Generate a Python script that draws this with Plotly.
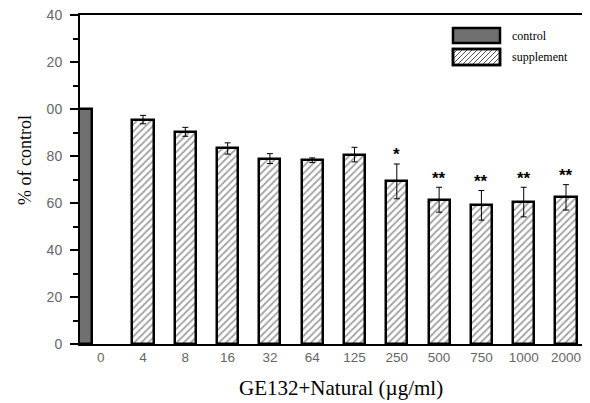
import plotly.graph_objects as go

categories = ["0", "4", "8", "16", "32", "64", "125", "250", "500", "750", "1000", "2000"]
control_value = [100.0]
supp_values = [95.5, 90.3, 83.2, 78.9, 78.2, 80.6, 69.2, 61.4, 59.0, 60.4, 62.4]
supp_errors = [1.8, 1.9, 2.4, 2.1, 1.0, 3.1, 7.4, 5.3, 6.3, 6.3, 5.4]
signif = ["", "", "", "", "", "", "*", "**", "**", "**", "**"]
ytick_vals = [0, 20, 40, 60, 80, 100, 120, 140]
ytick_text = ["0", "20", "40", "60", "80", "00", "20", "40"]
legend_names = ["control", "supplement"]

pos = list(range(len(categories)))
supp_pos = pos[1:]

# plot area in figure pixels (for placing the hand-drawn legend)
W, H = 582, 395
ML, MR, MT, MB = 72, 2, 7, 59
PW, PH = W - ML - MR, H - MT - MB


def px(xp):  # page pixel x -> paper
    return (xp - 8 - ML) / PW


def py(yp):  # page pixel y -> paper
    return (H - MB - (yp - 8)) / PH


fig = go.Figure()
fig.add_trace(go.Bar(
    x=[pos[0] - 0.45], y=control_value, width=0.5, name=legend_names[0],
    marker=dict(color="#707070", line=dict(color="black", width=2.5)),
))
fig.add_trace(go.Bar(
    x=supp_pos, y=supp_values, width=0.5, name=legend_names[1],
    marker=dict(color="white", line=dict(color="black", width=2.5),
                pattern=dict(shape="/", fgcolor="#444444", bgcolor="white", size=5, solidity=0.35)),
    error_y=dict(type="data", array=supp_errors, visible=True, color="black", thickness=1, width=3),
))

for p, v, e, s in zip(supp_pos, supp_values, supp_errors, signif):
    if s:
        fig.add_annotation(x=p, y=v + e, text="<b>" + s + "</b>", showarrow=False, yshift=9,
                           font=dict(family="Liberation Sans", size=17, color="black"))

# hand-drawn legend (larger swatches like the reference)
shapes = []
lx0, lx1 = 453, 500
boxes = [(28, 43), (49, 65)]
shapes.append(dict(type="rect", xref="paper", yref="paper",
                   x0=px(lx0), x1=px(lx1), y0=py(boxes[0][1]), y1=py(boxes[0][0]),
                   fillcolor="#707070", line=dict(color="black", width=2.5)))
t0, b0 = boxes[1]
shapes.append(dict(type="rect", xref="paper", yref="paper",
                   x0=px(lx0), x1=px(lx1), y0=py(b0), y1=py(t0),
                   fillcolor="white", line=dict(color="black", width=2.5)))
h = b0 - t0
for k in range(-h, lx1 - lx0, 5):
    tmin = max(0, -k)
    tmax = min(h, (lx1 - lx0) - k)
    if tmin < tmax:
        shapes.append(dict(type="line", xref="paper", yref="paper",
                           x0=px(lx0 + k + tmin), y0=py(b0 - tmin),
                           x1=px(lx0 + k + tmax), y1=py(b0 - tmax),
                           line=dict(color="#555555", width=1)))
shapes.append(dict(type="rect", xref="paper", yref="paper",
                   x0=px(lx0), x1=px(lx1), y0=py(b0), y1=py(t0),
                   fillcolor="rgba(0,0,0,0)", line=dict(color="black", width=2.5)))
for name, (t, b) in zip(legend_names, boxes):
    fig.add_annotation(xref="paper", yref="paper", x=px(510), y=py((t + b) / 2),
                       text=name, showarrow=False, xanchor="left", yanchor="middle",
                       font=dict(family="Liberation Serif", size=12, color="black"))

# axis titles
fig.add_annotation(xref="paper", yref="paper", x=px(25), y=py(160), text="% of control",
                   textangle=-90, showarrow=False, xanchor="center", yanchor="middle",
                   font=dict(family="Liberation Serif", size=18, color="black"))
fig.add_annotation(xref="paper", yref="paper", x=px(341), y=py(388),
                   text="GE132+Natural (µg/ml)", showarrow=False, xanchor="center", yanchor="middle",
                   font=dict(family="Liberation Serif", size=21, color="black"))

fig.update_layout(
    width=W, height=H,
    margin=dict(l=ML, r=MR, t=MT, b=MB, autoexpand=False),
    plot_bgcolor="white", paper_bgcolor="white",
    bargap=0, barmode="overlay",
    showlegend=False,
    shapes=shapes,
    xaxis=dict(range=[-0.49, 11.52], tickmode="array", tickvals=pos, ticktext=categories,
               showline=True, linecolor="black", linewidth=2, mirror=True, ticks="",
               showgrid=False, zeroline=False, automargin=False, ticklabeloverflow="allow",
               tickfont=dict(family="Liberation Sans", size=13.5, color="#666666")),
    yaxis=dict(range=[0, 140], tickmode="array", tickvals=ytick_vals, ticktext=ytick_text,
               showline=True, linecolor="black", linewidth=2, mirror=True,
               ticks="outside", ticklen=8, tickwidth=1.5, tickcolor="black",
               ticklabelstandoff=5, ticklabeloverflow="allow",
               minor=dict(ticks="outside", ticklen=5, tickcolor="black", dtick=10, tickwidth=1.5),
               showgrid=False, zeroline=False, automargin=False,
               tickfont=dict(family="Liberation Sans", size=14, color="#666666")),
)

fig.write_html("out.html")
